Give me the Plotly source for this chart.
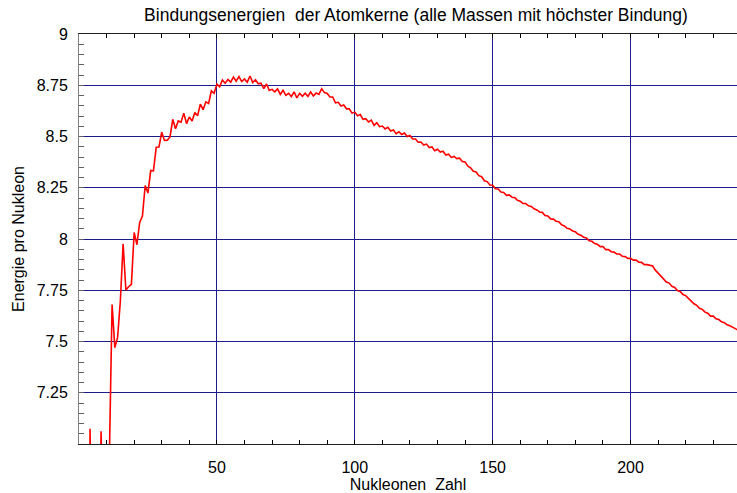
import plotly.graph_objects as go

# Mass number A (nucleon count)
nucleons = list(range(1, 240))

# Binding energy per nucleon (MeV), most tightly bound isobar for each A
energy = [
    0.000, 1.112, 2.827, 7.074, 5.512, 5.332, 5.606, 7.062, 6.463, 6.497,   # 1-10
    6.928, 7.680, 7.470, 7.520, 7.699, 7.976, 7.751, 7.767, 7.779, 8.032,   # 11-20
    7.972, 8.081, 8.112, 8.261, 8.224, 8.334, 8.332, 8.448, 8.449, 8.521,   # 21-30
    8.481, 8.482, 8.498, 8.584, 8.538, 8.576, 8.570, 8.614, 8.563, 8.595,   # 31-40
    8.576, 8.617, 8.601, 8.658, 8.631, 8.669, 8.661, 8.723, 8.711, 8.756,   # 41-50
    8.742, 8.776, 8.760, 8.778, 8.765, 8.790, 8.770, 8.792, 8.768, 8.781,   # 51-60
    8.765, 8.795, 8.763, 8.777, 8.757, 8.760, 8.734, 8.756, 8.725, 8.730,   # 61-70
    8.718, 8.732, 8.705, 8.725, 8.701, 8.711, 8.695, 8.718, 8.688, 8.711,   # 71-80
    8.696, 8.711, 8.696, 8.717, 8.698, 8.712, 8.705, 8.733, 8.714, 8.710,   # 81-90
    8.693, 8.693, 8.664, 8.667, 8.649, 8.654, 8.635, 8.635, 8.614, 8.619,   # 91-100
    8.601, 8.607, 8.584, 8.587, 8.571, 8.580, 8.554, 8.567, 8.548, 8.551,   # 101-110
    8.537, 8.545, 8.527, 8.532, 8.514, 8.523, 8.510, 8.517, 8.500, 8.505,   # 111-120
    8.488, 8.488, 8.472, 8.473, 8.458, 8.463, 8.446, 8.449, 8.431, 8.438,   # 121-130
    8.424, 8.428, 8.410, 8.414, 8.398, 8.403, 8.392, 8.394, 8.378, 8.376,   # 131-140
    8.355, 8.347, 8.330, 8.327, 8.309, 8.304, 8.284, 8.280, 8.263, 8.262,   # 141-150
    8.245, 8.244, 8.229, 8.227, 8.213, 8.215, 8.204, 8.202, 8.189, 8.184,   # 151-160
    8.173, 8.173, 8.162, 8.159, 8.147, 8.142, 8.132, 8.130, 8.115, 8.112,   # 161-170
    8.098, 8.097, 8.087, 8.084, 8.069, 8.064, 8.052, 8.049, 8.039, 8.035,   # 171-180
    8.023, 8.018, 8.008, 8.005, 7.991, 7.989, 7.978, 7.974, 7.963, 7.963,   # 181-190
    7.948, 7.948, 7.938, 7.936, 7.927, 7.927, 7.916, 7.914, 7.905, 7.906,   # 191-200
    7.897, 7.897, 7.887, 7.886, 7.875, 7.875, 7.870, 7.868, 7.848, 7.834,   # 201-210
    7.819, 7.804, 7.790, 7.785, 7.769, 7.764, 7.749, 7.744, 7.729, 7.724,   # 211-220
    7.709, 7.697, 7.684, 7.676, 7.662, 7.657, 7.643, 7.638, 7.624, 7.624,   # 221-230
    7.611, 7.607, 7.596, 7.592, 7.582, 7.577, 7.568, 7.563, 7.555,          # 231-239
]

y_tickvals = [7.25, 7.5, 7.75, 8, 8.25, 8.5, 8.75, 9]
y_ticktext = ["7.25", "7.5", "7.75", "8", "8.25", "8.5", "8.75", "9"]
x_tickvals = [50, 100, 150, 200]
x_ticktext = ["50", "100", "150", "200"]

FONT = "Liberation Sans, Arial, sans-serif"
GRID = "#1c1c8a"

fig = go.Figure()
fig.add_trace(go.Scatter(
    x=nucleons, y=energy, mode="lines",
    line=dict(color="#ff0000", width=1.6),
    hoverinfo="x+y", showlegend=False,
))

fig.update_layout(
    width=737, height=493,
    margin=dict(l=79, r=0, t=34, b=49),
    paper_bgcolor="white", plot_bgcolor="white",
    font=dict(family=FONT, size=16, color="black"),
    title=dict(
        text="Bindungsenergien  der Atomkerne (alle Massen mit höchster Bindung)",
        x=(416 - 79) / 658, xref="paper", xanchor="center",
        y=1 - 15 / 493, yref="container", yanchor="middle",
        font=dict(family=FONT, size=17.5, color="black"),
    ),
)

fig.update_xaxes(
    range=[0, 238.6],
    tickvals=x_tickvals, ticktext=x_ticktext,
    ticks="inside", ticklen=4, tickcolor="black", tickwidth=1,
    minor=dict(dtick=10, tick0=0, ticks="inside", ticklen=4, tickcolor="black", showgrid=False),
    showgrid=True, gridcolor=GRID, gridwidth=1,
    showline=True, linecolor="#202020", linewidth=1, mirror="ticks",
    zeroline=False,
    ticklabelstandoff=9,
    title=dict(text="Nukleonen  Zahl", standoff=0, font=dict(size=16)),
)

fig.update_yaxes(
    range=[7, 9],
    tickvals=y_tickvals, ticktext=y_ticktext,
    ticks="inside", ticklen=5, tickcolor="#606060", tickwidth=1,
    minor=dict(dtick=0.05, tick0=7, ticks="inside", ticklen=5, tickcolor="#606060", showgrid=False),
    showgrid=True, gridcolor=GRID, gridwidth=1,
    showline=True, linecolor="#808080", linewidth=1, mirror=False,
    zeroline=False,
    ticklabelstandoff=7,
    title=dict(text="Energie pro Nukleon", standoff=8, font=dict(size=16)),
)

fig.write_html(
    "out.html",
    config={"displayModeBar": False},
    post_script="document.body.style.margin='0';document.body.style.overflow='hidden';",
)
